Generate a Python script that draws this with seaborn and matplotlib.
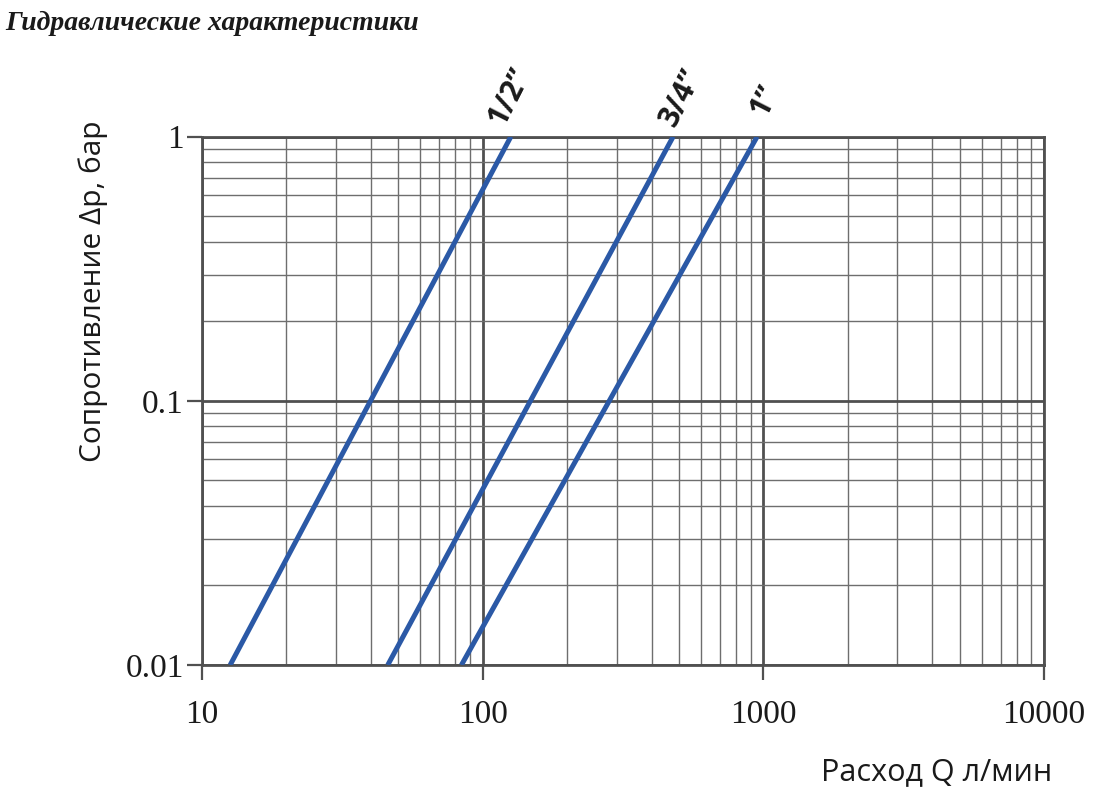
import matplotlib
matplotlib.use("Agg")
import matplotlib.pyplot as plt
import matplotlib.ticker as mticker
import numpy as np
import pandas as pd
import seaborn as sns

# ---- data ----
sizes = ['1/2\u201d', '3/4\u201d', '1\u201d']
dp_bar = [0.01, 1.0]
q_half = [12.6, 126.0]
q_three_quarter = [45.9, 477.0]
q_one = [84.0, 950.0]

x_ticks = [10, 100, 1000, 10000]
x_tick_labels = ['10', '100', '1000', '10000']
y_ticks = [0.01, 0.1, 1]
y_tick_labels = ['0.01', '0.1', '1']

title = 'Гидравлические характеристики'
xlabel = 'Расход Q л/мин'
ylabel = 'Сопротивление Δp, бар'

rows = []
for name, qs in zip(sizes, [q_half, q_three_quarter, q_one]):
    for q, d in zip(qs, dp_bar):
        rows.append({'size': name, 'Q': q, 'dp': d})
df = pd.DataFrame(rows)

sns.set_theme(style='white')
plt.rcParams['font.family'] = ['Liberation Serif', 'DejaVu Serif']

fig = plt.figure(figsize=(10.96, 7.97), dpi=100)
ax = fig.add_axes([0.1843, 0.1656, 0.9526 - 0.1843, 0.8285 - 0.1656])

line_color = '#2b59a6'
sns.lineplot(data=df, x='Q', y='dp', hue='size', palette=[line_color] * 3,
             legend=False, ax=ax, linewidth=3.6, solid_capstyle='butt', zorder=5)

ax.set_xscale('log')
ax.set_yscale('log')
ax.set_xlim(10, 10000)
ax.set_ylim(0.01, 1)

ax.xaxis.set_major_locator(mticker.FixedLocator(x_ticks))
ax.xaxis.set_major_formatter(mticker.FixedFormatter(x_tick_labels))
ax.yaxis.set_major_locator(mticker.FixedLocator(y_ticks))
ax.yaxis.set_major_formatter(mticker.FixedFormatter(y_tick_labels))
ax.xaxis.set_minor_locator(mticker.LogLocator(base=10, subs=np.arange(2, 10)))
ax.yaxis.set_minor_locator(mticker.LogLocator(base=10, subs=np.arange(2, 10)))
ax.xaxis.set_minor_formatter(mticker.NullFormatter())
ax.yaxis.set_minor_formatter(mticker.NullFormatter())

ax.grid(True, which='major', color='#505050', linewidth=2.0, zorder=1)
ax.grid(True, which='minor', color='#6e6e6e', linewidth=1.0, zorder=1)
ax.set_axisbelow(True)

ax.tick_params(which='major', direction='out', length=11, width=1.6, color='#505050',
               labelsize=24, labelcolor='#1a1a1a', bottom=True, left=True)
ax.tick_params(axis='x', which='major', pad=14)
ax.tick_params(axis='y', which='major', pad=2)
ax.tick_params(which='minor', length=0)

for sp in ax.spines.values():
    sp.set_color('#505050')
    sp.set_linewidth(2.0)
    sp.set_visible(True)

ax.set_xlabel('')
ax.set_ylabel('')

fig.text(1052 / 1096, 1 - 772 / 797, xlabel, ha='right', va='center',
         fontsize=22, family=['Open Sans', 'DejaVu Sans'], color='#1a1a1a')
fig.text(93 / 1096, 1 - 291 / 797, ylabel, ha='center', va='center', rotation=90,
         fontsize=21.5, family=['Open Sans', 'DejaVu Sans'], color='#1a1a1a')
fig.text(5 / 1096, 1 - 23 / 797, title, ha='left', va='center', fontsize=20,
         fontweight='bold', fontstyle='italic', family=['Liberation Serif', 'DejaVu Serif'],
         color='#1a1a1a')

# labels at the top of each line
offsets = [(-1, 29), (6, 28), (6, 26)]
for name, qs, off in zip(sizes, [q_half, q_three_quarter, q_one], offsets):
    ax.annotate(name, xy=(qs[1], dp_bar[1]), xytext=off, textcoords='offset points',
                ha='center', va='center', rotation=63, fontsize=21.5, fontweight='bold',
                family=['Open Sans', 'DejaVu Sans'], color='#1a1a1a', annotation_clip=False)

fig.savefig('out.png', dpi=100)
